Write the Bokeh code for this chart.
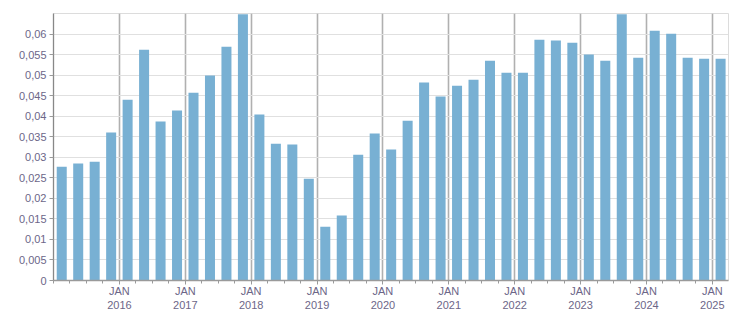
from bokeh.plotting import figure
from bokeh.models import Range1d, FixedTicker
from bokeh.embed import file_html
from bokeh.resources import INLINE

quarters = [
    "2015-Q1", "2015-Q2", "2015-Q3", "2015-Q4",
    "2016-Q1", "2016-Q2", "2016-Q3", "2016-Q4",
    "2017-Q1", "2017-Q2", "2017-Q3", "2017-Q4",
    "2018-Q1", "2018-Q2", "2018-Q3", "2018-Q4",
    "2019-Q1", "2019-Q2", "2019-Q3", "2019-Q4",
    "2020-Q1", "2020-Q2", "2020-Q3", "2020-Q4",
    "2021-Q1", "2021-Q2", "2021-Q3", "2021-Q4",
    "2022-Q1", "2022-Q2", "2022-Q3", "2022-Q4",
    "2023-Q1", "2023-Q2", "2023-Q3", "2023-Q4",
    "2024-Q1", "2024-Q2", "2024-Q3", "2024-Q4",
    "2025-Q1",
]
values = [
    0.0277, 0.0285, 0.0289, 0.0360,
    0.0440, 0.0562, 0.0387, 0.0414,
    0.0457, 0.0499, 0.0569, 0.0648,
    0.0404, 0.0333, 0.0331, 0.0248,
    0.0131, 0.0158, 0.0306, 0.0358,
    0.0319, 0.0389, 0.0482, 0.0448,
    0.0474, 0.0489, 0.0535, 0.0506,
    0.0506, 0.0586, 0.0584, 0.0579,
    0.0550, 0.0535, 0.0648, 0.0542,
    0.0608, 0.0601, 0.0542, 0.0540,
    0.0540,
]
y_tick_values = [0, 0.005, 0.01, 0.015, 0.02, 0.025, 0.03, 0.035, 0.04,
                 0.045, 0.05, 0.055, 0.06]
y_tick_labels = ["0", "0,005", "0,01", "0,015", "0,02", "0,025", "0,03",
                 "0,035", "0,04", "0,045", "0,05", "0,055", "0,06"]
year_ticks = [2016, 2017, 2018, 2019, 2020, 2021, 2022, 2023, 2024, 2025]
year_labels = ["JAN\n2016", "JAN\n2017", "JAN\n2018", "JAN\n2019", "JAN\n2020",
               "JAN\n2021", "JAN\n2022", "JAN\n2023", "JAN\n2024", "JAN\n2025"]

# quarter -> fractional year (bar centred in its quarter)
qyear = [int(q[:4]) for q in quarters]
qnum = [int(q[-1]) for q in quarters]
x_center = [y + (n - 0.5) * 0.25 for y, n in zip(qyear, qnum)]
quarter_starts = [y + (n - 1) * 0.25 for y, n in zip(qyear, qnum)] + [2025.25]

FONT = "Liberation Sans"
LABEL_COLOR = "#6c6688"

p = figure(width=751, height=313, output_backend="svg", toolbar_location=None,
           x_range=Range1d(2015, 2025.245), y_range=Range1d(0, 0.065),
           min_border_left=53, min_border_right=23, min_border_top=13,
           min_border_bottom=33)

p.vbar(x=x_center, top=values, width=0.152, fill_color="#78b0d3",
       line_color=None)

p.outline_line_color = "#dcdcdc"
p.outline_line_width = 1

p.ygrid.ticker = FixedTicker(ticks=y_tick_values)
p.ygrid.grid_line_color = "#e0e0e0"
p.ygrid.grid_line_width = 1
p.xgrid.ticker = FixedTicker(ticks=year_ticks)
p.xgrid.grid_line_color = "#b0b0b0"
p.xgrid.grid_line_width = 1.6

p.xaxis.ticker = FixedTicker(ticks=year_ticks, minor_ticks=quarter_starts)
p.xaxis.major_label_overrides = dict(zip(year_ticks, year_labels))
p.yaxis.ticker = FixedTicker(ticks=y_tick_values)
p.yaxis.major_label_overrides = dict(zip(y_tick_values, y_tick_labels))

for ax in (p.xaxis, p.yaxis):
    ax.axis_line_color = "#9a9a9a"
    ax.axis_line_width = 1.3
    ax.major_tick_line_color = "#9a9a9a"
    ax.minor_tick_line_color = "#9a9a9a"
    ax.major_tick_in = 0
    ax.major_tick_out = 4
    ax.minor_tick_in = 0
    ax.major_label_text_font = FONT
    ax.major_label_text_font_size = "11px"
    ax.major_label_text_color = LABEL_COLOR

p.yaxis.axis_line_color = "#888888"
p.yaxis.minor_tick_line_color = None
p.yaxis.major_label_standoff = 3
p.xaxis.minor_tick_out = 3
p.xaxis.major_label_standoff = 0

open("out.html", "w").write(file_html(p, INLINE))
